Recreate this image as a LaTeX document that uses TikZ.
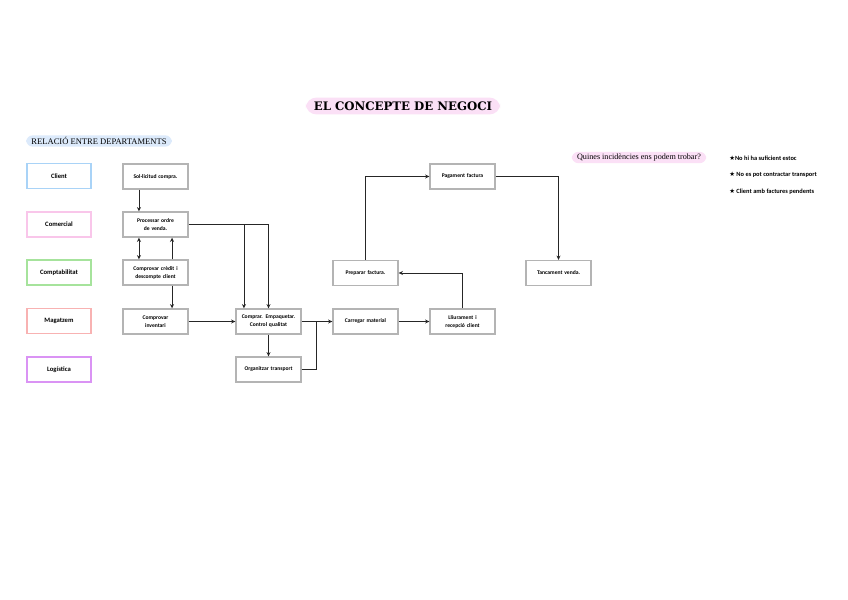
\documentclass[tikz,border=0pt]{standalone}
\usepackage{fontspec}
\setmainfont{Liberation Serif}
\newfontfamily\titlefont{DejaVu Serif}
\newfontfamily\handfont{Carlito}
\newfontfamily\symfont{DejaVu Sans}
\usetikzlibrary{arrows.meta,calc}
\definecolor{pillpink}{HTML}{FBE0F6}
\definecolor{pillblue}{HTML}{DCEAFB}
\definecolor{cblue}{HTML}{A9D3F7}
\definecolor{cpink}{HTML}{F9C6EA}
\definecolor{cgreen}{HTML}{A6E39C}
\definecolor{csalmon}{HTML}{F8B2B2}
\definecolor{cviolet}{HTML}{DA93F4}
\definecolor{bordergray}{HTML}{B4B4B4}
\tikzset{
  box/.style={draw=bordergray, line width=1pt, fill=white, minimum width=48.75pt, minimum height=18.75pt,
    inner sep=1pt, align=center, text width=44pt, font=\handfont\bfseries\fontsize{4.2}{6}\selectfont},
  dept/.style={box, line width=0.9pt, minimum width=48pt, font=\handfont\bfseries\fontsize{5}{6}\selectfont},
  arr/.style={draw=black!85, line width=0.7pt, -{Stealth[length=3.2pt,width=3pt]}},
  ln/.style={draw=black!85, line width=0.7pt},
  pill/.style={rounded corners=5pt, inner xsep=4pt, inner ysep=1.5pt},
  inc/.style={anchor=west, inner sep=0pt, font=\handfont\bfseries\fontsize{4.8}{6}\selectfont},
}
\begin{document}
\begin{tikzpicture}[x=0.75pt,y=-0.75pt]
\useasboundingbox[fill=white] (0,0) rectangle (848,599);
% title
\node[pill, fill=pillpink, rounded corners=8pt, inner xsep=6pt, inner ysep=3pt, font=\titlefont\bfseries\fontsize{8.8}{10}\selectfont] (title) at (403,106) {EL CONCEPTE DE NEGOCI};
\node[pill, fill=pillblue, font=\fontsize{6.4}{7}\selectfont] (rel) at (99,141) {RELACIÓ ENTRE DEPARTAMENTS};
\node[pill, fill=pillpink, font=\fontsize{6.1}{7}\selectfont] (quin) at (639,157.5) {Quines incidències ens podem trobar?};
% incidences
\node[inc] (i1) at (729,158) {{\symfont★}No hi ha suficient estoc};
\node[inc] (i2) at (729,175) {{\symfont★} No es pot contractar transport};
\node[inc] (i3) at (729,192) {{\symfont★} Client amb factures pendents};
% departments
\node[dept, draw=cblue] (d1) at (59,176) {Client};
\node[dept, draw=cpink] (d2) at (59,224.5) {Comercial};
\node[dept, draw=cgreen] (d3) at (59,272.5) {Comptabilitat};
\node[dept, draw=csalmon] (d4) at (59,321) {Magatzem};
\node[dept, draw=cviolet] (d5) at (59,369.5) {Logística};
% process boxes
\node[box] (sol) at (155.5,176.5) {Sol·licitud compra.};
\node[box] (proc) at (155.5,224.5) {Processar ordre\\ de venda.};
\node[box] (cred) at (155.5,272.5) {Comprovar crèdit i\\ descompte client};
\node[box] (inv) at (155.5,321.5) {Comprovar\\ inventari};
\node[box] (comp) at (268.5,321.5) {Comprar. Empaquetar.\\ Control qualitat};
\node[box] (org) at (268.5,369.5) {Organitzar transport};
\node[box] (carr) at (365.5,321.5) {Carregar material};
\node[box] (lli) at (462.5,321.5) {Lliurament i\\ recepció client};
\node[box] (prep) at (365.5,273) {Preparar factura.};
\node[box] (pag) at (462.5,176.5) {Pagament factura};
\node[box] (tan) at (558.5,273) {Tancament venda.};
% connectors
\draw[arr] ([xshift=-12.4pt]sol.south) -- ([xshift=-12.4pt]proc.north);
\draw[arr, {Stealth[length=3.2pt,width=3pt]}-{Stealth[length=3.2pt,width=3pt]}] ([xshift=-12.4pt]proc.south) -- ([xshift=-12.4pt]cred.north);
\draw[arr] ([xshift=12.4pt]cred.north) -- ([xshift=12.4pt]proc.south);
\draw[arr] ([xshift=12.4pt]cred.south) -- ([xshift=12.4pt]inv.north);
\draw[arr] (proc.east) -| (comp.north);
\coordinate (br) at ([xshift=-18.4pt]comp.north);
\draw[arr] (proc.east -| br) -- (br);
\draw[arr] (inv.east) -- (comp.west);
\draw[arr] (comp.south) -- (org.north);
\draw[arr] (comp.east) -- (carr.west);
\coordinate (jn) at (316,321.5);
\draw[ln] (org.east) -| (jn);
\draw[arr] (carr.east) -- (lli.west);
\draw[arr] (lli.north) |- (prep.east);
\draw[arr] (prep.north) |- (pag.west);
\draw[arr] (pag.east) -| (tan.north);
\end{tikzpicture}
\end{document}
